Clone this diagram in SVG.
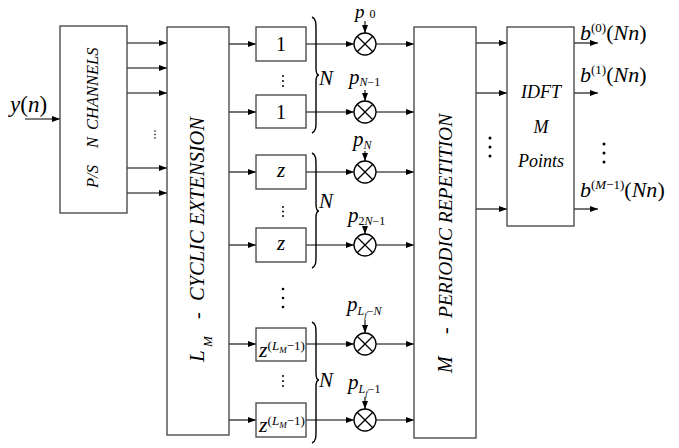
<svg xmlns="http://www.w3.org/2000/svg" width="679" height="448" viewBox="0 0 679 448">
<defs>
<style>
.box{fill:#fff;stroke:#404040;stroke-width:1.3}
.ln{stroke:#000;stroke-width:1.1;fill:none}
.ar{marker-end:url(#ah)}
.br{fill:none;stroke:#000;stroke-width:1.4}
.mul{fill:#fff;stroke:#000;stroke-width:1.3}
.x{stroke:#000;stroke-width:1.3}
.t{font-family:"Liberation Serif","Times New Roman",serif;fill:#000}
.i{font-style:italic}
.dot{fill:#000}
</style>
<marker id="ah" markerUnits="userSpaceOnUse" markerWidth="9" markerHeight="7" refX="8" refY="3" orient="auto">
<path d="M0,0 L8,3 L0,6 Z" fill="#000"/>
</marker>
</defs>

<g id="connectors">
<line class="ln ar" x1="25" y1="119" x2="60" y2="119"/>
<line class="ln ar" x1="127" y1="43" x2="167" y2="43"/>
<line class="ln ar" x1="127" y1="68" x2="167" y2="68"/>
<line class="ln ar" x1="127" y1="93" x2="167" y2="93"/>
<line class="ln ar" x1="127" y1="168" x2="167" y2="168"/>
<line class="ln ar" x1="127" y1="193" x2="167" y2="193"/>
<line class="ln ar" x1="229" y1="44" x2="256" y2="44"/>
<line class="ln ar" x1="229" y1="112" x2="256" y2="112"/>
<line class="ln ar" x1="229" y1="172" x2="256" y2="172"/>
<line class="ln ar" x1="229" y1="245" x2="256" y2="245"/>
<line class="ln ar" x1="229" y1="344" x2="256" y2="344"/>
<line class="ln ar" x1="229" y1="420" x2="256" y2="420"/>
<line class="ln ar" x1="306" y1="44" x2="354" y2="44"/>
<line class="ln ar" x1="306" y1="112" x2="354" y2="112"/>
<line class="ln ar" x1="306" y1="172" x2="354" y2="172"/>
<line class="ln ar" x1="306" y1="245" x2="354" y2="245"/>
<line class="ln ar" x1="306" y1="344" x2="354" y2="344"/>
<line class="ln ar" x1="306" y1="420" x2="354" y2="420"/>
<line class="ln ar" x1="376" y1="44" x2="414" y2="44"/>
<line class="ln ar" x1="376" y1="112" x2="414" y2="112"/>
<line class="ln ar" x1="376" y1="172" x2="414" y2="172"/>
<line class="ln ar" x1="376" y1="245" x2="414" y2="245"/>
<line class="ln ar" x1="376" y1="344" x2="414" y2="344"/>
<line class="ln ar" x1="376" y1="420" x2="414" y2="420"/>
<line class="ln ar" x1="365" y1="21" x2="365" y2="33"/>
<line class="ln ar" x1="365" y1="90" x2="365" y2="101"/>
<line class="ln ar" x1="365" y1="151" x2="365" y2="161"/>
<line class="ln ar" x1="365" y1="227" x2="365" y2="234"/>
<line class="ln ar" x1="365" y1="320" x2="365" y2="333"/>
<line class="ln ar" x1="365" y1="397" x2="365" y2="409"/>
<line class="ln ar" x1="476" y1="43" x2="507" y2="43"/>
<line class="ln ar" x1="476" y1="93" x2="507" y2="93"/>
<line class="ln ar" x1="476" y1="209" x2="507" y2="209"/>
<line class="ln ar" x1="574" y1="43" x2="598" y2="43"/>
<line class="ln ar" x1="574" y1="93" x2="598" y2="93"/>
<line class="ln ar" x1="574" y1="209" x2="598" y2="209"/>
<path class="br" d="M312,17 C316,19 316,23 316,28 L316,68 C316,72 317,75 319,75 C317,75 316,78 316,82 L316,122 C316,127 316,131 312,133"/>
<path class="br" d="M312,153 C316,155 316,159 316,164 L316,204 C316,208 317,211 319,211 C317,211 316,214 316,218 L316,257 C316,262 316,266 312,268"/>
<path class="br" d="M312,322 C316,324 316,328 316,333 L316,373 C316,377 317,380 319,380 C317,380 316,383 316,387 L316,432 C316,437 316,441 312,443"/>
<circle class="dot" cx="155" cy="131" r="0.8"/><circle class="dot" cx="155" cy="134.5" r="0.8"/><circle class="dot" cx="155" cy="138" r="0.8"/>
<circle class="dot" cx="283" cy="76" r="1"/><circle class="dot" cx="283" cy="81" r="1"/><circle class="dot" cx="283" cy="86" r="1"/>
<circle class="dot" cx="283" cy="207" r="1"/><circle class="dot" cx="283" cy="211.5" r="1"/><circle class="dot" cx="283" cy="216" r="1"/>
<circle class="dot" cx="283" cy="289" r="1.3"/><circle class="dot" cx="283" cy="298" r="1.3"/><circle class="dot" cx="283" cy="307" r="1.3"/>
<circle class="dot" cx="283" cy="376" r="1"/><circle class="dot" cx="283" cy="381" r="1"/><circle class="dot" cx="283" cy="386" r="1"/>
<circle class="dot" cx="490" cy="138" r="1.5"/><circle class="dot" cx="490" cy="147" r="1.5"/><circle class="dot" cx="490" cy="156" r="1.5"/>
<circle class="dot" cx="604" cy="144" r="1.5"/><circle class="dot" cx="604" cy="153" r="1.5"/><circle class="dot" cx="604" cy="162" r="1.5"/>
</g>

<g id="input" class="t">
<text x="10" y="112" font-size="23"><tspan class="i">y</tspan>(<tspan class="i">n</tspan>)</text>
</g>

<g id="ps">
<rect class="box" x="60" y="26" width="67" height="187"/>
<g class="t i" font-size="16.5" transform="translate(98,188) rotate(-90)">
<text x="0" y="0">P/S</text>
<text x="40" y="0">N</text>
<text x="58" y="0">CHANNELS</text>
</g>
</g>

<g id="lm">
<rect class="box" x="167" y="27" width="62" height="408"/>
<g class="t i" transform="translate(204,362) rotate(-90)">
<text x="0" y="0" font-size="21">L</text>
<text x="15" y="8" font-size="13">M</text>
<text x="43" y="0" font-size="20" font-style="normal">-</text>
<text x="61" y="0" font-size="20.5">CYCLIC EXTENSION</text>
</g>
</g>

<g id="d1"><rect class="box" x="256" y="27" width="50" height="34"/><text class="t" x="281" y="51" font-size="20" text-anchor="middle">1</text></g>
<g id="d2"><rect class="box" x="256" y="95" width="50" height="33"/><text class="t" x="281" y="119" font-size="20" text-anchor="middle">1</text></g>
<g id="d3"><rect class="box" x="256" y="155" width="50" height="34"/><text class="t i" x="281" y="177" font-size="21" text-anchor="middle">z</text></g>
<g id="d4"><rect class="box" x="256" y="228" width="50" height="34"/><text class="t i" x="281" y="250" font-size="21" text-anchor="middle">z</text></g>
<g id="d5"><rect class="box" x="256" y="328" width="50" height="33"/>
<text class="t" x="259" y="357" font-size="22"><tspan class="i">z</tspan><tspan font-size="13" dy="-7">(</tspan><tspan class="i" font-size="13">L</tspan><tspan class="i" font-size="9" dy="3">M</tspan><tspan font-size="13" dy="-3">−1)</tspan></text></g>
<g id="d6"><rect class="box" x="256" y="403" width="50" height="34"/>
<text class="t" x="259" y="432" font-size="22"><tspan class="i">z</tspan><tspan font-size="13" dy="-7">(</tspan><tspan class="i" font-size="13">L</tspan><tspan class="i" font-size="9" dy="3">M</tspan><tspan font-size="13" dy="-3">−1)</tspan></text></g>

<g id="braceN" class="t i" font-size="21">
<text x="319" y="85">N</text>
<text x="319" y="208">N</text>
<text x="319" y="387">N</text>
</g>

<g id="m1"><circle class="mul" cx="365" cy="44" r="11"/><path class="x" d="M357.2,36.2 L372.8,51.8 M372.8,36.2 L357.2,51.8"/>
<text class="t" x="355" y="17.5" font-size="19"><tspan class="i">p</tspan><tspan font-size="12" dx="5" dy="0.5">0</tspan></text></g>
<g id="m2"><circle class="mul" cx="365" cy="112" r="11"/><path class="x" d="M357.2,104.2 L372.8,119.8 M372.8,104.2 L357.2,119.8"/>
<text class="t" x="349" y="84" font-size="21"><tspan class="i">p</tspan><tspan font-size="12" dy="2"><tspan class="i">N</tspan>−1</tspan></text></g>
<g id="m3"><circle class="mul" cx="365" cy="172" r="11"/><path class="x" d="M357.2,164.2 L372.8,179.8 M372.8,164.2 L357.2,179.8"/>
<text class="t" x="353" y="146" font-size="21"><tspan class="i">p</tspan><tspan class="i" font-size="12" dy="3">N</tspan></text></g>
<g id="m4"><circle class="mul" cx="365" cy="245" r="11"/><path class="x" d="M357.2,237.2 L372.8,252.8 M372.8,237.2 L357.2,252.8"/>
<text class="t" x="348" y="222" font-size="21"><tspan class="i">p</tspan><tspan font-size="12" dy="3">2<tspan class="i">N</tspan>−1</tspan></text></g>
<g id="m5"><circle class="mul" cx="365" cy="344" r="11"/><path class="x" d="M357.2,336.2 L372.8,351.8 M372.8,336.2 L357.2,351.8"/>
<text class="t" x="347" y="311" font-size="21"><tspan class="i">p</tspan><tspan class="i" font-size="12" dy="4">L</tspan><tspan class="i" font-size="9" dy="3">f</tspan><tspan font-size="12" dy="-3">−<tspan class="i">N</tspan></tspan></text></g>
<g id="m6"><circle class="mul" cx="365" cy="420" r="11"/><path class="x" d="M357.2,412.2 L372.8,427.8 M372.8,412.2 L357.2,427.8"/>
<text class="t" x="348" y="389" font-size="21"><tspan class="i">p</tspan><tspan class="i" font-size="12" dy="4">L</tspan><tspan class="i" font-size="9" dy="3">f</tspan><tspan font-size="12" dy="-3">−1</tspan></text></g>

<g id="pr">
<rect class="box" x="414" y="27" width="62" height="411"/>
<g class="t i" transform="translate(452,373) rotate(-90)">
<text x="0" y="0" font-size="20">M</text>
<text x="39" y="0" font-size="20" font-style="normal">-</text>
<text x="55" y="0" font-size="19.5">PERIODIC REPETITION</text>
</g>
</g>

<g id="idft">
<rect class="box" x="507" y="27" width="67" height="199"/>
<g class="t i" font-size="18" text-anchor="middle">
<text x="541" y="98">IDFT</text>
<text x="541" y="133">M</text>
<text x="541" y="167">Points</text>
</g>
</g>

<g id="outputs" class="t" font-size="22">
<text x="580" y="40"><tspan class="i">b</tspan><tspan font-size="13" dy="-8">(0)</tspan><tspan dy="8">(</tspan><tspan class="i">Nn</tspan>)</text>
<text x="580" y="82"><tspan class="i">b</tspan><tspan font-size="13" dy="-8">(1)</tspan><tspan dy="8">(</tspan><tspan class="i">Nn</tspan>)</text>
<text x="580" y="197"><tspan class="i">b</tspan><tspan font-size="13" dy="-8">(<tspan class="i">M</tspan>−1)</tspan><tspan dy="8">(</tspan><tspan class="i">Nn</tspan>)</text>
</g>
</svg>
